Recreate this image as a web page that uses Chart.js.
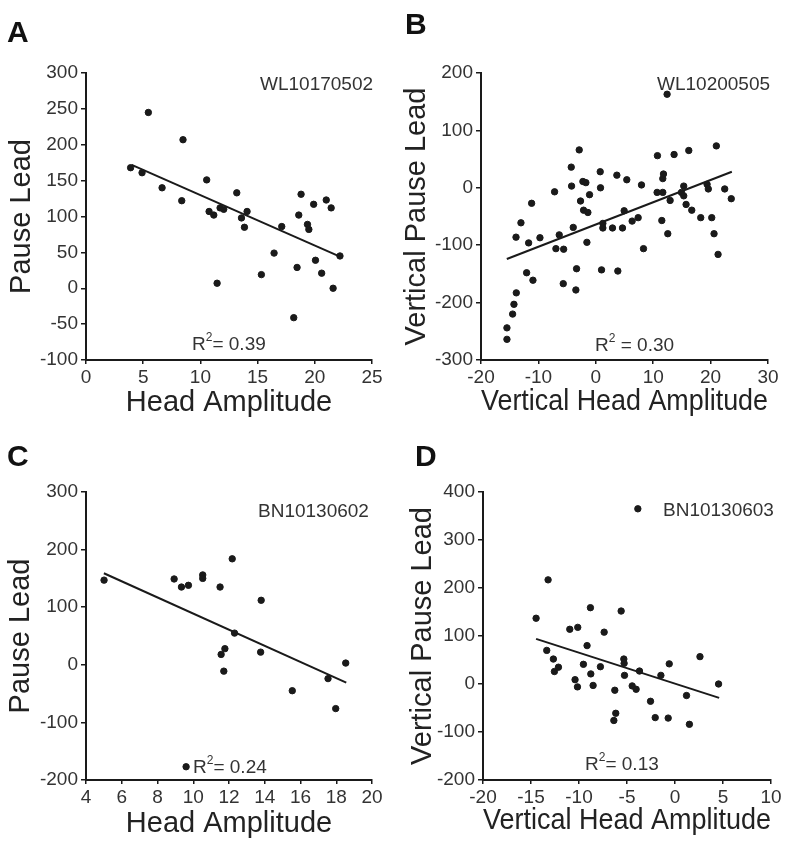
<!DOCTYPE html>
<html>
<head>
<meta charset="utf-8">
<script src="https://cdn.jsdelivr.net/npm/chart.js@4"></script>
<style>
body{margin:0;background:#fff;width:800px;height:851px;position:relative;overflow:hidden;font-family:"Liberation Sans",Arial,sans-serif;color:#333}
canvas{position:absolute}
.lbl{position:absolute;font-size:19px;white-space:nowrap;line-height:1}
.let{position:absolute;font-size:30px;font-weight:bold;color:#111;line-height:1}
.lbl sup{font-size:12px;vertical-align:top;position:relative;top:-3px}
</style>
</head>
<body>
<canvas id="cA" width="400" height="420" style="left:0;top:0"></canvas>
<canvas id="cB" width="400" height="420" style="left:400px;top:0"></canvas>
<canvas id="cC" width="400" height="431" style="left:0;top:420px"></canvas>
<canvas id="cD" width="400" height="431" style="left:400px;top:420px"></canvas>

<div class="let" style="left:7px;top:17px">A</div>
<div class="let" style="left:405px;top:9px">B</div>
<div class="let" style="left:7px;top:441px">C</div>
<div class="let" style="left:415px;top:441px">D</div>

<div class="lbl" style="left:260px;top:74px">WL10170502</div>
<div class="lbl" style="left:192px;top:334px">R<sup>2</sup>= 0.39</div>
<div class="lbl" style="left:657px;top:74px">WL10200505</div>
<div class="lbl" style="left:595px;top:335px">R<sup>2</sup> = 0.30</div>
<div class="lbl" style="left:258px;top:501px">BN10130602</div>
<div class="lbl" style="left:193px;top:757px">R<sup>2</sup>= 0.24</div>
<div class="lbl" style="left:663px;top:500px">BN10130603</div>
<div class="lbl" style="left:585px;top:754px">R<sup>2</sup>= 0.13</div>

<script>
// panel A - WL10170502
const aX = [3.9,4.9,5.45,6.65,8.37,8.48,10.55,10.76,11.17,11.46,11.72,12.04,13.18,13.59,13.85,14.08,15.33,16.44,17.11,18.16,18.45,18.6,18.8,19.36,19.48,19.9,20.06,20.6,21.0,21.43,21.6,22.2];
const aY = [168,161,245,140,122,207,151,107,102,7,112,110,133,98,85,107,19,49,86,-41,29,102,131,89,82,117,39,21,123,112,0,45];
const aFitX = [4, 22.2];
const aFitY = [172, 44];

// panel B - WL10200505
const bX = [-15.48,-15.48,-14.49,-14.26,-13.85,-13.9,-13.04,-12.05,-11.7,-11.18,-10.95,-9.73,-7.18,-6.95,-6.37,-5.6,-5.67,-4.28,-4.22,-3.93,-3.35,-3.47,-2.89,-2.66,-2.25,-2.13,-1.73,-1.55,-1.38,-1.09,0.77,0.82,1.0,1.23,1.23,2.91,3.67,3.84,4.65,4.94,5.4,6.33,7.38,7.96,8.31,10.74,10.68,11.5,11.67,11.67,11.79,12.42,12.54,12.95,13.64,14.92,15.32,15.32,15.73,16.2,16.72,18.28,19.39,19.6,20.2,20.6,21.0,21.3,22.46,23.6];
const bY = [-264,-244,-220,-203,-183,-86,-61,-148,-96,-27,-161,-87,-7,-106,-82,-107,-167,36,3,-69,-141,-178,66,-23,11,-39,9,-95,-43,-12,28,0,-143,-62,-70,-70,22,-145,-70,-40,14,-58,-52,5,-106,56,-8,-57,-8,16,24,163,-80,-22,58,-8,3,-14,-29,65,-39,-52,6,-2,-52,-80,73,-116,-2,-19];
const bFitX = [-15.5, 23.7];
const bFitY = [-124, 28];

// panel C - BN10130602
const cX = [5.01,8.93,9.34,9.73,10.53,10.53,11.5,12.18,12.31,11.56,11.77,11.71,13.8,13.77,15.54,17.54,17.97,18.53,9.6];
const cY = [147,149,135,138,156,150,135,184,55,18,28,-11,112,22,-45,-24,-76,3,-177];
const cFitX = [5.0, 18.56];
const cFitY = [159, -31];

// panel D - BN10130603
const dX = [-14.47,-13.22,-13.36,-12.67,-12.56,-12.14,-10.96,-10.41,-10.16,-10.13,-9.54,-9.16,-8.81,-8.77,-8.53,-7.77,-7.38,-6.27,-6.37,-6.17,-5.61,-5.33,-5.3,-5.26,-4.46,-4.05,-3.7,-3.87,-2.55,-2.06,-1.47,-0.71,-0.6,1.2,1.5,2.6,4.54];
const dY = [137,217,70,52,26,35,114,9,-6,118,41,80,159,21,-3,36,108,-13,-76,-61,152,52,43,18,-4,-11,27,365,-36,-70,18,-71,42,-24,-84,57,0];
const dFitX = [-14.47, 4.6];
const dFitY = [94, -29];

const FONT = '"Liberation Sans", Arial, sans-serif';
const INK = '#1a1a1a';

function pts(xs, ys){ return xs.map((x,i)=>({x:x, y:ys[i]})); }

function panel(id, xs, ys, fx, fy, o){
  new Chart(document.getElementById(id), {
    type: 'scatter',
    data: {
      datasets: [
        { data: pts(xs, ys), backgroundColor: INK, borderColor: INK, pointRadius: 3.2, pointHoverRadius: 3.2 },
        { type: 'line', data: pts(fx, fy), borderColor: INK, borderWidth: 2, pointRadius: 0, fill: false, showLine: true }
      ]
    },
    options: {
      responsive: false,
      animation: false,
      layout: { padding: o.pad },
      plugins: { legend: {display:false}, tooltip: {enabled:false} },
      scales: {
        x: {
          type: 'linear', min: o.x[0], max: o.x[1],
          ticks: { stepSize: o.x[2], color:'#333', font:{size:19, family:FONT}, padding:2, maxRotation:0, autoSkip:false },
          grid: { drawOnChartArea:false, drawTicks:true, tickLength:4, color:INK, lineWidth:1.5 },
          border: { display:true, color:INK, width:2 },
          title: { display:true, text:o.xt, color:'#222', font:{size:29, family:FONT}, padding:{top:0, bottom:o.xtp} },
          afterFit: s => { s.height = o.xh; s.paddingLeft = 0; s.paddingRight = 0; }
        },
        y: {
          type: 'linear', min: o.y[0], max: o.y[1],
          ticks: { stepSize: o.y[2], color:'#333', font:{size:19, family:FONT}, padding:3, autoSkip:false },
          grid: { drawOnChartArea:false, drawTicks:true, tickLength:5, color:INK, lineWidth:1.5 },
          border: { display:true, color:INK, width:2 },
          title: { display:true, text:o.yt, color:'#222', font:{size:29, family:FONT}, padding:{top:o.ytp, bottom:0} },
          afterFit: s => { s.width = o.yw; s.paddingTop = 0; s.paddingBottom = 0; }
        }
      }
    }
  });
}

panel('cA', aX, aY, aFitX, aFitY, {
  x:[0,25,5], y:[-100,300,50], xt:'Head Amplitude', yt:'Pause Lead',
  pad:{left:0, top:73, right:28, bottom:0}, yw:86, xh:60, xtp:0, ytp:5
});
panel('cB', bX, bY, bFitX, bFitY, {
  x:[-20,30,10], y:[-300,200,100], xt:'Vertical Head Amplitude', yt:'Vertical Pause Lead',
  pad:{left:0, top:73, right:32, bottom:0}, yw:81, xh:60, xtp:1, ytp:0
});
panel('cC', cX, cY, cFitX, cFitY, {
  x:[4,20,2], y:[-200,300,100], xt:'Head Amplitude', yt:'Pause Lead',
  pad:{left:0, top:72, right:28, bottom:0}, yw:86, xh:71, xtp:10, ytp:4
});
panel('cD', dX, dY, dFitX, dFitY, {
  x:[-20,10,5], y:[-200,400,100], xt:'Vertical Head Amplitude', yt:'Vertical Pause Lead',
  pad:{left:0, top:72, right:29, bottom:0}, yw:83, xh:71, xtp:13, ytp:6
});
</script>
</body>
</html>
